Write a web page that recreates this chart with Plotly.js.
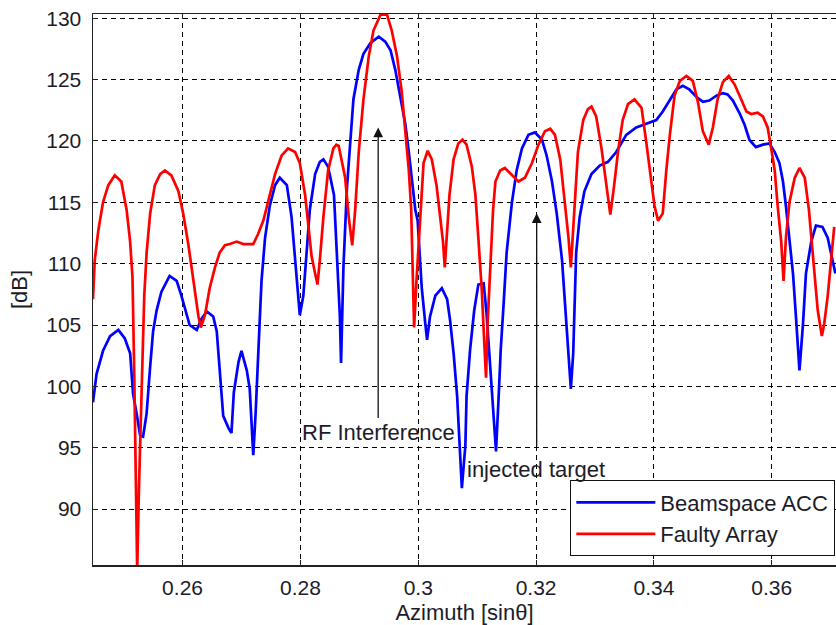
<!DOCTYPE html>
<html>
<head>
<meta charset="utf-8">
<script src="https://cdn.plot.ly/plotly-3.0.1.min.js"></script>
<style>
  html, body { margin: 0; padding: 0; background: #fff; }
  #chart { width: 836px; height: 625px; }
</style>
</head>
<body>
<div id="chart"></div>
<script>
// Beamspace ACC (blue)
const blueX = [
  0.2448,0.2454,0.2465,0.2477,0.2491,0.2502,0.2511,0.2516,0.2523,0.2528,
  0.2533,0.2539,0.2545,0.2550,0.2556,0.2564,0.2578,0.2590,0.2598,0.2607,
  0.2612,0.2624,0.2632,0.2641,0.2652,0.2658,0.2663,0.2669,0.2678,0.2683,
  0.2687,0.2695,0.2700,0.2709,0.2714,0.2717,0.2720,0.2724,0.2727,0.2731,
  0.2734,0.2740,0.2748,0.2757,0.2765,0.2777,0.2785,0.2791,0.2796,0.2799,
  0.2805,0.2811,0.2816,0.2825,0.2833,0.2839,0.2847,
  0.2857,0.2862,0.2867,0.2869,0.2873,0.2879,0.2885,0.2890,0.2899,0.2907,
  0.2919,0.2933,0.2944,0.2953,0.2961,0.2969,0.2978,0.2984,0.2989,0.2995,
  0.2999,0.3006,0.3012,0.3015,0.3020,0.3029,0.3040,0.3049,0.3054,0.3060,
  0.3066,0.3071,0.3074,0.3080,0.3082,0.3088,0.3095,0.3102,0.3111,0.3116,
  0.3122,0.3128,0.3132,0.3136,0.3140,0.3145,0.3150,0.3159,0.3167,0.3176,
  0.3187,0.3198,0.3210,0.3218,0.3227,0.3235,0.3244,0.3249,0.3255,0.3259,
  0.3263,0.3266,0.3268,0.3274,0.3282,0.3294,0.3308,0.3322,0.3336,0.3353,
  0.3370,0.3387,0.3404,0.3415,0.3427,0.3438,0.3449,0.3460,0.3472,0.3483,
  0.3494,0.3506,0.3517,0.3525,0.3534,0.3545,0.3554,0.3562,0.3573,0.3585,
  0.3596,0.3605,0.3613,0.3619,0.3624,0.3630,0.3636,0.3641,0.3647,0.3653,
  0.3658,0.3667,0.3675,0.3686,0.3695,0.3703,0.3708
];
const blueY = [
  98.7,101.0,102.9,104.1,104.6,103.9,102.7,99.4,97.5,96.0,
  95.9,97.8,101.6,104.5,106.2,107.7,109.0,108.6,107.4,105.7,
  105.0,104.6,105.5,106.1,105.7,104.5,101.6,97.6,96.6,96.2,
  99.5,102.0,102.9,101.3,99.8,97.2,94.4,97.8,101.6,105.4,
  108.6,112.1,114.7,116.4,117.0,116.4,113.8,110.3,107.7,105.8,
  107.4,110.9,114.4,117.3,118.3,118.5,117.9,
  115.6,110.3,105.7,101.9,109.7,116.2,120.5,123.4,125.8,127.1,
  128.0,128.5,128.1,127.4,125.8,123.7,121.4,119.1,116.7,114.4,
  113.5,108.0,105.1,103.8,105.7,107.4,108.0,107.1,105.4,102.7,
  99.2,94.3,91.7,95.2,99.2,103.0,106.2,108.3,108.4,105.9,
  101.9,98.1,94.7,98.7,103.0,106.8,110.9,115.0,117.6,119.4,
  120.5,120.7,120.1,118.8,116.7,114.1,110.3,106.8,103.0,99.8,
  102.7,107.4,110.9,113.8,115.9,117.3,118.0,118.3,119.1,120.5,
  121.1,121.4,121.7,122.4,123.4,124.2,124.5,124.2,123.6,123.2,
  123.3,123.7,123.9,123.8,123.3,122.3,121.3,120.1,119.5,119.7,
  119.8,119.1,118.2,116.7,114.7,112.1,109.2,105.7,101.3,105.1,
  109.2,111.8,113.1,113.0,112.1,110.3,109.2
];

// Faulty Array (red)
const redX = [
  0.2448,0.2451,0.2457,0.2465,0.2474,0.2485,0.2496,0.2505,0.2511,0.2515,
  0.2518,0.2520,0.2523,0.2526,0.2529,0.2532,0.2535,0.2539,0.2545,0.2553,
  0.2562,0.2570,0.2581,0.2593,0.2601,0.2610,0.2618,0.2627,0.2631,0.2638,
  0.2646,0.2655,0.2663,0.2672,0.2680,0.2692,0.2703,0.2720,0.2728,0.2737,
  0.2748,0.2757,0.2768,0.2779,0.2791,0.2799,0.2808,0.2813,0.2819,0.2825,
  0.2829,0.2833,0.2839,0.2847,0.2856,0.2861,
  0.2865,0.2876,0.2882,0.2888,0.2893,0.2899,0.2907,0.2916,0.2924,0.2936,
  0.2947,0.2955,0.2964,0.2972,0.2978,0.2984,0.2988,0.2991,0.2993,0.2997,
  0.3001,0.3005,0.3009,0.3016,0.3023,0.3031,0.3037,0.3042,0.3045,0.3049,
  0.3053,0.3060,0.3068,0.3075,0.3082,0.3091,0.3097,0.3102,0.3108,0.3112,
  0.3115,0.3118,0.3122,0.3127,0.3131,0.3139,0.3147,0.3159,0.3170,0.3181,
  0.3193,0.3204,0.3215,0.3224,0.3232,0.3241,0.3249,0.3255,0.3259,
  0.3266,0.3271,0.3280,0.3288,0.3294,0.3302,0.3311,0.3319,0.3326,0.3332,
  0.3339,0.3347,0.3356,0.3367,0.3379,0.3387,0.3394,0.3401,0.3407,0.3415,
  0.3421,0.3427,0.3435,0.3444,0.3455,0.3466,0.3475,0.3483,0.3493,0.3500,
  0.3508,0.3517,0.3527,0.3537,0.3548,0.3557,0.3565,0.3576,0.3585,0.3593,
  0.3599,0.3605,0.3610,0.3616,0.3620,0.3624,0.3630,0.3639,0.3647,0.3656,
  0.3663,0.3670,0.3678,0.3685,0.3689,0.3695,0.3701,0.3706
];
const redY = [
  107.1,110.3,112.7,115.0,116.4,117.2,116.7,114.4,111.8,108.9,
  101.0,93.4,85.0,91.7,96.6,102.2,107.4,110.9,114.1,116.4,
  117.3,117.6,117.2,115.9,114.1,111.5,108.6,105.7,104.8,105.8,
  108.0,109.7,110.9,111.5,111.6,111.8,111.6,111.6,112.4,113.5,
  115.6,117.3,118.8,119.4,119.1,118.2,115.6,113.2,110.6,109.2,
  108.3,110.3,113.8,117.6,119.4,119.7,
  119.6,117.0,113.8,111.5,114.4,119.1,123.4,126.9,129.0,130.3,
  130.3,129.0,126.9,124.0,121.1,117.6,114.4,109.7,104.8,108.6,
  111.8,115.6,118.2,119.2,118.5,116.4,114.1,111.8,109.7,113.0,
  115.6,118.5,119.8,120.1,119.7,117.9,115.6,112.1,107.7,103.6,
  100.7,105.4,109.7,114.4,116.7,117.6,117.8,117.2,116.7,117.0,
  118.2,119.7,120.8,121.0,120.5,118.5,115.0,112.1,109.7,
  115.0,119.1,121.7,122.6,122.8,122.0,119.4,116.7,114.0,116.2,
  119.1,121.7,123.0,123.4,122.7,119.9,117.3,114.7,113.5,114.1,
  117.6,120.5,123.7,124.9,125.3,124.9,123.1,120.8,119.7,121.1,
  123.4,124.8,125.3,124.6,123.4,122.4,122.2,122.3,122.0,121.1,
  119.4,117.6,114.7,111.8,108.6,112.1,115.0,117.0,117.8,117.0,
  114.4,110.3,106.2,104.1,105.1,107.4,110.3,113.0
];

const seriesNames = ["Beamspace ACC", "Faulty Array"];
const xTickVals = [0.26, 0.28, 0.30, 0.32, 0.34, 0.36];
const xTickText = ["0.26", "0.28", "0.3", "0.32", "0.34", "0.36"];
const yTickVals = [90, 95, 100, 105, 110, 115, 120, 125, 130];
const xRange = [0.2448, 0.3709];
const yRange = [85.44, 130.35];

// annotation anchors (data units)
const rfArrow = {x: 0.2932, tipY: 121.1, tailY: 97.3};
const rfLabel = {x: 0.2800, y: 96.2, text: "RF Interference"};
const tgArrow = {x: 0.3201, tipY: 114.1, tailY: 95.0};
const tgLabel = {x: 0.3079, y: 93.2, text: "injected target"};

const FONT = '"Liberation Sans", Arial, sans-serif';
const TXT = '#1c1c28';

const traces = [
  {x: blueX, y: blueY, type: 'scatter', mode: 'lines', name: seriesNames[0],
   line: {color: '#0000FF', width: 2.7}},
  {x: redX, y: redY, type: 'scatter', mode: 'lines', name: seriesNames[1],
   line: {color: '#FF0000', width: 2.7}}
];

const axisCommon = {
  showgrid: true, gridcolor: '#000', gridwidth: 1, griddash: '5px,4px',
  zeroline: false, showline: true, linecolor: '#222', linewidth: 1.5,
  ticks: 'inside', ticklen: 5, tickcolor: '#222',
  tickfont: {family: FONT, size: 21, color: TXT}
};

const layout = {
  width: 836, height: 625,
  margin: {l: 93, r: 0, t: 14, b: 60},
  paper_bgcolor: '#fff', plot_bgcolor: '#fff',
  font: {family: FONT, size: 22, color: TXT},
  xaxis: Object.assign({}, axisCommon, {
    range: xRange, tickvals: xTickVals, ticktext: xTickText,
    mirror: 'ticks', ticklabelstandoff: 3,
    title: {text: 'Azimuth [sin\u03b8]', font: {family: FONT, size: 22, color: TXT}, standoff: 9},
    automargin: false
  }),
  yaxis: Object.assign({}, axisCommon, {
    range: yRange, tickvals: yTickVals,
    mirror: false, ticklabelstandoff: 6,
    title: {text: '[dB]', font: {family: FONT, size: 22, color: TXT}, standoff: 12},
    automargin: false
  }),
  showlegend: true,
  legend: {
    x: 0.9987, xanchor: 'right', y: 0.016, yanchor: 'bottom',
    bgcolor: '#fff', bordercolor: '#111', borderwidth: 1.3,
    font: {family: FONT, size: 22, color: TXT},
    itemwidth: 79, tracegroupgap: 0, entrywidth: 268
  },
  annotations: [
    {x: rfArrow.x, y: rfArrow.tipY, ax: rfArrow.x, ay: rfArrow.tailY,
     xref: 'x', yref: 'y', axref: 'x', ayref: 'y', text: '',
     showarrow: true, arrowhead: 2, arrowsize: 1.5, arrowwidth: 1.3, arrowcolor: '#111'},
    {x: tgArrow.x, y: tgArrow.tipY, ax: tgArrow.x, ay: tgArrow.tailY,
     xref: 'x', yref: 'y', axref: 'x', ayref: 'y', text: '',
     showarrow: true, arrowhead: 2, arrowsize: 1.5, arrowwidth: 1.3, arrowcolor: '#111'},
    {x: rfLabel.x, y: rfLabel.y, xref: 'x', yref: 'y', text: rfLabel.text,
     showarrow: false, xanchor: 'left', yanchor: 'middle',
     font: {family: FONT, size: 22, color: TXT}},
    {x: tgLabel.x, y: tgLabel.y, xref: 'x', yref: 'y', text: tgLabel.text,
     showarrow: false, xanchor: 'left', yanchor: 'middle',
     font: {family: FONT, size: 22, color: TXT}}
  ]
};

Plotly.newPlot('chart', traces, layout, {staticPlot: true, displayModeBar: false});
</script>
</body>
</html>
